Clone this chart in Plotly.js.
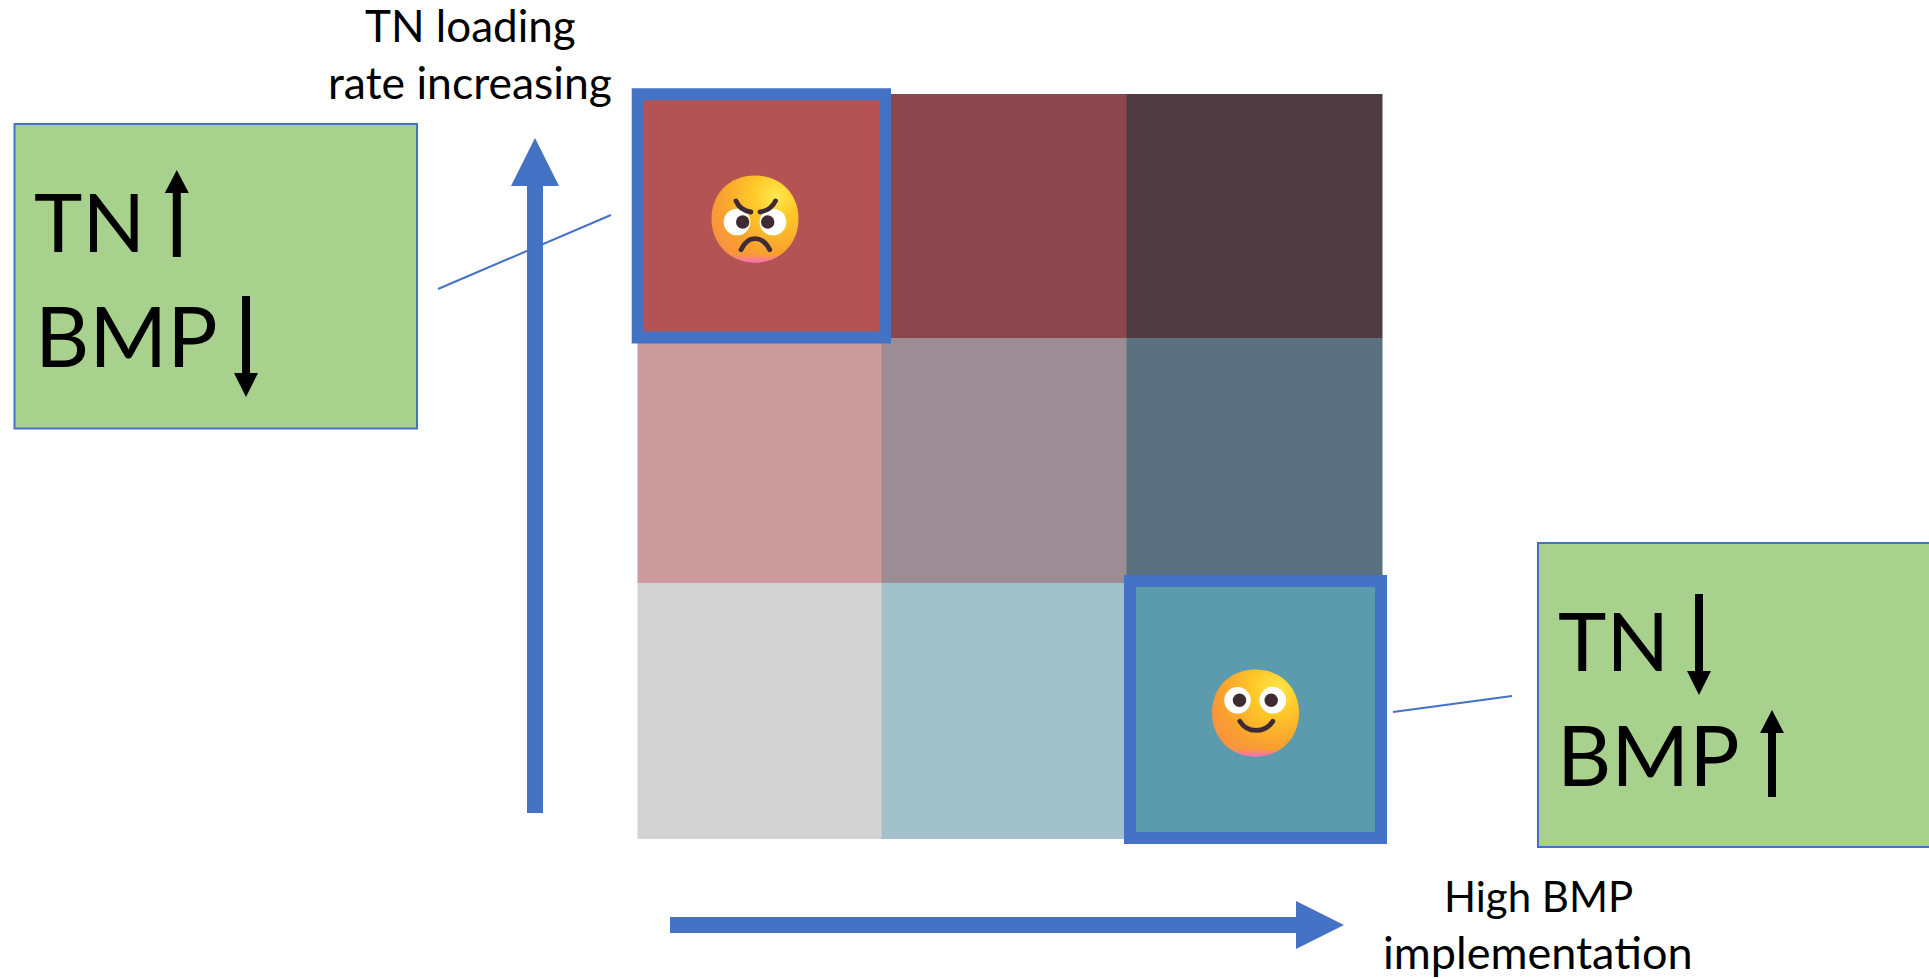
<!DOCTYPE html>
<html>
<head>
<meta charset="utf-8">
<title>TN loading and BMP implementation</title>
<script src="https://cdn.plot.ly/plotly-3.0.1.min.js"></script>
<style>
  html, body { margin: 0; padding: 0; background: #ffffff; overflow: hidden; }
  #chart { width: 1929px; height: 979px; }
</style>
</head>
<body>
<div id="chart"></div>
<script>
// Bivariate classes: rows run from high TN loading (top) to low, columns from low BMP to high.
const tnLevels = ['High TN', 'Medium TN', 'Low TN'];
const bmpLevels = ['Low BMP', 'Medium BMP', 'High BMP'];
const classIndex = [
  [0, 1, 2],
  [3, 4, 5],
  [6, 7, 8]
];
const classColors = [
  '#B45353', '#8A474D', '#4F3C42',
  '#CC9B9B', '#9C8D94', '#5C717F',
  '#D3D3D3', '#A2C2CB', '#5B9BAD'
];

// Cell edges on the page-sized axes.
const columnEdges = [637.5, 881, 1126, 1382];
const rowEdges = [94, 338, 583, 839];

const BLUE = '#4472C4';
const GREEN = '#A9D18E';
const FONT = 'Lato, "Open Sans", sans-serif';

// Outline of a straight block arrow from (x0,y0) to its tip at (x1,y1).
function arrowPath(x0, y0, x1, y1, shaft, head, headLength) {
  const len = Math.hypot(x1 - x0, y1 - y0);
  const ux = (x1 - x0) / len, uy = (y1 - y0) / len;
  const nx = -uy, ny = ux;
  const bx = x1 - ux * headLength, by = y1 - uy * headLength;
  const pts = [
    [x0 + nx * shaft / 2, y0 + ny * shaft / 2],
    [bx + nx * shaft / 2, by + ny * shaft / 2],
    [bx + nx * head / 2, by + ny * head / 2],
    [x1, y1],
    [bx - nx * head / 2, by - ny * head / 2],
    [bx - nx * shaft / 2, by - ny * shaft / 2],
    [x0 - nx * shaft / 2, y0 - ny * shaft / 2]
  ];
  return 'M' + pts.map(p => p[0] + ',' + p[1]).join('L') + 'Z';
}

const arrowShape = (coords, shaft, head, headLength, color) => ({
  type: 'path', xref: 'x', yref: 'y',
  path: arrowPath(...coords, shaft, head, headLength),
  fillcolor: color, line: { width: 0 }
});
const boxShape = (x0, y0, x1, y1, width, fill) => ({
  type: 'rect', xref: 'x', yref: 'y', x0, y0, x1, y1,
  fillcolor: fill, line: { color: BLUE, width }
});
const connector = (x0, y0, x1, y1) => ({
  type: 'line', xref: 'x', yref: 'y', x0, y0, x1, y1,
  line: { color: BLUE, width: 2 }
});

const shapes = [
  boxShape(14.5, 124, 417, 428.5, 2, GREEN),
  boxShape(1538, 543, 1940, 847, 2, GREEN),
  connector(438, 289, 611, 215),
  connector(1393, 712, 1512, 696),
  arrowShape([535, 813, 535, 138], 16, 48, 48, BLUE),
  arrowShape([670, 925, 1344, 925], 16, 48, 48, BLUE),
  boxShape(637.7, 94.3, 885, 337.5, 12, 'rgba(0,0,0,0)'),
  boxShape(1130, 581, 1381, 838, 12, 'rgba(0,0,0,0)'),
  arrowShape([176.8, 257, 176.8, 170], 8, 24, 23, '#000000'),
  arrowShape([246, 296, 246, 397], 8, 24, 24, '#000000'),
  arrowShape([1699, 594, 1699, 695], 8, 24, 24, '#000000'),
  arrowShape([1772, 797, 1772, 710], 8, 24, 23, '#000000')
];

// Text placed by its left edge or centre and its baseline; the descent is
// applied as a pixel shift so the anchor itself stays inside the axis range.
const label = (text, x, baseline, size, xanchor) => ({
  text, x, y: baseline, yshift: -size * 0.24, xref: 'x', yref: 'y',
  xanchor, yanchor: 'bottom', showarrow: false, borderpad: 0,
  font: { family: FONT, size, color: '#000000' }
});

const annotations = [
  label('TN loading', 470, 41.7, 44, 'center'),
  label('rate increasing', 470, 98, 44.5, 'center'),
  label('High BMP', 1538, 911.7, 42, 'center'),
  label('implementation', 1538, 969, 45, 'center'),
  label('TN', 33, 250.7, 82, 'left'),
  label('BMP', 34, 366, 84, 'left'),
  label('TN', 1556.5, 669, 82, 'left'),
  label('BMP', 1556, 785, 84, 'left')
];

// Glossy face used for the two highlighted classes.
function faceSvg(features) {
  const outline = 'M44 0.5C69 0.5 87.5 18 87.5 44C87.5 69 69 87.5 44 87.5C19 87.5 0.5 69 0.5 44C0.5 18 19 0.5 44 0.5Z';
  const svg =
    '<svg xmlns="http://www.w3.org/2000/svg" width="264" height="264" viewBox="0 0 88 88">' +
    '<defs>' +
    '<radialGradient id="b" cx="0.74" cy="0.24" r="0.95">' +
    '<stop offset="0" stop-color="#FFE84F"/><stop offset="0.28" stop-color="#FFC928"/>' +
    '<stop offset="0.68" stop-color="#F8A02F"/><stop offset="1" stop-color="#F78C4A"/></radialGradient>' +
    '<linearGradient id="p" x1="0" y1="0" x2="0" y2="1">' +
    '<stop offset="0.91" stop-color="#FF6FB5" stop-opacity="0"/><stop offset="1" stop-color="#F86CC8" stop-opacity="1"/></linearGradient>' +
    '</defs>' +
    '<path d="' + outline + '" fill="url(#b)"/>' +
    '<path d="' + outline + '" fill="url(#p)"/>' +
    features + '</svg>';
  return 'data:image/svg+xml;charset=utf-8,' + encodeURIComponent(svg);
}
const INK = '#3E2A33';
const eye = (cx, cy, px) =>
  '<circle cx="' + cx + '" cy="' + cy + '" r="13.3" fill="#ffffff"/>' +
  '<circle cx="' + px + '" cy="' + cy + '" r="6.7" fill="' + INK + '"/>';
const stroke = d =>
  '<path d="' + d + '" fill="none" stroke="' + INK + '" stroke-width="4.8" stroke-linecap="round"/>';

const angryFace = faceSvg(
  eye(26, 47, 31.7) + eye(62, 47, 56.7) +
  stroke('M25 26C28 33 33 36 40 37') + stroke('M64.5 26C61 33 56 36 49 37') +
  stroke('M30 74.7C37 60 51 60 58.7 74.7')
);
const smileFace = faceSvg(
  eye(26, 31.3, 28) + eye(61.3, 31.3, 59.7) +
  stroke('M28.3 52.3C36 64.5 53 64.5 61.3 52.3')
);
const faceImage = (source, cx, cy) => ({
  source, xref: 'x', yref: 'y', x: cx - 44, y: cy - 44,
  sizex: 88, sizey: 88, sizing: 'stretch',
  xanchor: 'left', yanchor: 'top', layer: 'above'
});

const classMap = {
  type: 'heatmap',
  x: columnEdges,
  y: rowEdges,
  z: classIndex,
  zmin: 0,
  zmax: classColors.length - 1,
  colorscale: classColors.map((c, i) => [i / (classColors.length - 1), c]),
  showscale: false,
  hoverinfo: 'skip',
  customdata: tnLevels.map(t => bmpLevels.map(b => t + ', ' + b))
};

const hiddenAxis = range => ({
  range, visible: false, fixedrange: true, showgrid: false, zeroline: false
});

Plotly.newPlot('chart', [classMap], {
  width: 1929,
  height: 979,
  margin: { l: 0, r: 0, t: 0, b: 0, pad: 0 },
  paper_bgcolor: '#ffffff',
  plot_bgcolor: '#ffffff',
  showlegend: false,
  xaxis: hiddenAxis([0, 1929]),
  yaxis: hiddenAxis([979, 0]),
  shapes,
  annotations,
  images: [faceImage(angryFace, 755, 219), faceImage(smileFace, 1255.5, 713)]
}, { displayModeBar: false, staticPlot: true });
</script>
</body>
</html>
